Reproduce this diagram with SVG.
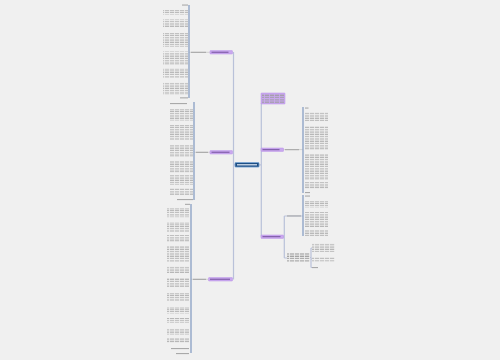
<svg xmlns="http://www.w3.org/2000/svg" width="500" height="360" viewBox="0 0 500 360">
<style>
.bg{fill:#f0f0f0}
.trunk{fill:none;stroke:#b9c1d9;stroke-width:1.2}
.bar{fill:none;stroke:#8fa4c6;stroke-width:1.4}
.link{fill:none;stroke:#c4c4c4;stroke-width:0.7}
.root{fill:#1e4f84;stroke:#7aa6d6;stroke-width:0.8}
.topic{fill:#c9a8ef;stroke:#b891e6;stroke-width:0.5}
.para{fill:url(#tx)}
.parad{fill:url(#txd)}
.lbl{fill:#a9a9a9}
.tl{fill:#7d5aa6}
.wl{fill:#e3ecf7}
</style>
<defs>
<pattern id="tx" width="5" height="2.3" patternUnits="userSpaceOnUse">
<rect x="0" y="0.4" width="4.2" height="1.1" fill="#b3b3b3"/>
</pattern>
<pattern id="txd" width="5" height="2.3" patternUnits="userSpaceOnUse">
<rect x="0" y="0.4" width="4.2" height="1.1" fill="#9c9c9c"/>
</pattern>
</defs>
<rect class="bg" x="0" y="0" width="500" height="360"/>

<g id="connectors">
<!-- left trunk -->
<path class="trunk" d="M235,164.8 H233.5 M233.5,52 V279.5"/>
<!-- right trunk -->
<path class="trunk" d="M259,164.8 H261.3 M261.3,103 V236.8"/>
<!-- left branch links -->
<line class="link" x1="189" y1="52.3" x2="210" y2="52.3"/>
<line class="link" x1="194" y1="152.3" x2="210" y2="152.3"/>
<line class="link" x1="191" y1="279.3" x2="208" y2="279.3"/>
<!-- left bars -->
<line class="bar" x1="189" y1="5" x2="189" y2="98"/>
<line class="bar" x1="194" y1="102" x2="194" y2="200"/>
<line class="bar" x1="191" y1="204" x2="191" y2="353"/>
<!-- right links -->
<line class="link" x1="283" y1="149.6" x2="303" y2="149.6"/>
<line class="bar" x1="303" y1="107" x2="303" y2="193"/>
<path class="trunk" d="M283,236.8 H284.3 M284.3,216 V258 M284.3,216 H303 M284.3,258 H287"/>
<line class="bar" x1="303" y1="195" x2="303" y2="236"/>
<path class="trunk" d="M310,257.5 H311 M311,248 V267.5 M311,248 H312 M311,259 H312 M311,267.5 H312"/>
</g>

<g id="root">
<rect class="root" x="235" y="162.5" width="24" height="4.6" rx="0.6"/>
<rect class="wl" x="237" y="164.2" width="20" height="1.2"/>
</g>

<g id="topic-l1">
<rect class="topic" x="210" y="50.6" width="22.5" height="3.4" rx="0.5"/>
<rect class="tl" x="211.5" y="51.7" width="17" height="1.1"/>
<rect class="lbl" x="191" y="51.8" width="15" height="1.1"/>
</g>
<g id="topic-l2">
<rect class="topic" x="210" y="150.6" width="22.5" height="3.4" rx="0.5"/>
<rect class="tl" x="211.5" y="151.7" width="18" height="1.1"/>
<rect class="lbl" x="196" y="151.8" width="12" height="1.1"/>
</g>
<g id="topic-l3">
<rect class="topic" x="208.5" y="277.6" width="24" height="3.4" rx="0.5"/>
<rect class="tl" x="210" y="278.7" width="20" height="1.1"/>
<rect class="lbl" x="193" y="278.8" width="13" height="1.1"/>
</g>
<g id="topic-r1">
<rect class="topic" x="261" y="93" width="24" height="11" rx="0.5"/>
<rect x="262" y="94" width="22" height="9" fill="url(#txd)" opacity="0.9"/>
</g>
<g id="topic-r2">
<rect class="topic" x="261" y="148" width="22.5" height="3.4" rx="0.5"/>
<rect class="tl" x="262.5" y="149.1" width="17" height="1.1"/>
<rect class="lbl" x="285" y="149.1" width="14" height="1.1"/>
</g>
<g id="topic-r3">
<rect class="topic" x="261" y="235" width="22.5" height="3.4" rx="0.5"/>
<rect class="tl" x="262.5" y="236.1" width="18" height="1.1"/>
</g>

<g id="group-l1">
<rect class="lbl" x="182" y="4.5" width="6" height="1.1"/>
<rect class="para" x="163" y="10" width="25" height="4.6"/>
<rect class="para" x="163" y="19.5" width="25" height="7.5"/>
<rect class="para" x="163" y="33" width="25" height="14"/>
<rect class="para" x="163" y="51.5" width="25" height="13.5"/>
<rect class="para" x="163" y="68" width="25" height="10"/>
<rect class="para" x="163" y="82.5" width="25" height="12"/>
<rect class="lbl" x="180" y="97.3" width="8" height="1.1"/>
</g>
<g id="group-l2">
<rect class="lbl" x="170" y="103" width="17" height="1.1"/>
<rect class="para" x="170" y="109" width="23" height="11.5"/>
<rect class="para" x="170" y="125" width="23" height="15"/>
<rect class="para" x="170" y="145" width="23" height="12"/>
<rect class="para" x="170" y="161" width="23" height="11.5"/>
<rect class="para" x="170" y="175" width="23" height="10"/>
<rect class="para" x="170" y="188" width="23" height="7"/>
<rect class="lbl" x="177" y="199" width="16" height="1.1"/>
</g>
<g id="group-l3">
<rect class="lbl" x="185" y="203.8" width="5" height="1.1"/>
<rect class="para" x="167" y="208" width="22" height="9.2"/>
<rect class="para" x="167" y="222" width="22" height="10"/>
<rect class="para" x="167" y="235" width="22" height="7"/>
<rect class="para" x="167" y="246" width="22" height="16"/>
<rect class="para" x="167" y="266" width="22" height="7"/>
<rect class="para" x="167" y="278" width="22" height="9"/>
<rect class="para" x="167" y="293" width="22" height="8"/>
<rect class="para" x="167" y="307" width="22" height="6.5"/>
<rect class="para" x="167" y="318" width="22" height="5"/>
<rect class="para" x="167" y="328" width="22" height="6.5"/>
<rect class="para" x="167" y="338" width="22" height="5"/>
<rect class="lbl" x="171" y="348" width="18" height="1.1"/>
<rect class="lbl" x="176" y="353" width="13" height="1.1"/>
</g>
<g id="group-r2">
<rect class="lbl" x="305" y="107.5" width="3.5" height="1.1"/>
<rect class="para" x="305" y="112" width="23" height="10"/>
<rect class="para" x="305" y="126" width="23" height="24"/>
<rect class="para" x="305" y="154" width="23" height="26"/>
<rect class="para" x="305" y="182" width="23" height="6.5"/>
<rect class="lbl" x="305" y="192" width="5" height="1.1"/>
</g>
<g id="group-r3a">
<rect class="lbl" x="287" y="215.4" width="14" height="1.1"/>
<rect class="lbl" x="305" y="195.5" width="5" height="1.1"/>
<rect class="para" x="305" y="201" width="23" height="6.5"/>
<rect class="para" x="305" y="212" width="23" height="15"/>
<rect class="para" x="305" y="230" width="23" height="7"/>
</g>
<g id="group-r3b">
<rect class="parad" x="287" y="253" width="23" height="9"/>
<rect class="para" x="312" y="243" width="23" height="9"/>
<rect class="para" x="312" y="257" width="23" height="4.6"/>
<rect class="lbl" x="312" y="267" width="6" height="1.1"/>
</g>
</svg>
